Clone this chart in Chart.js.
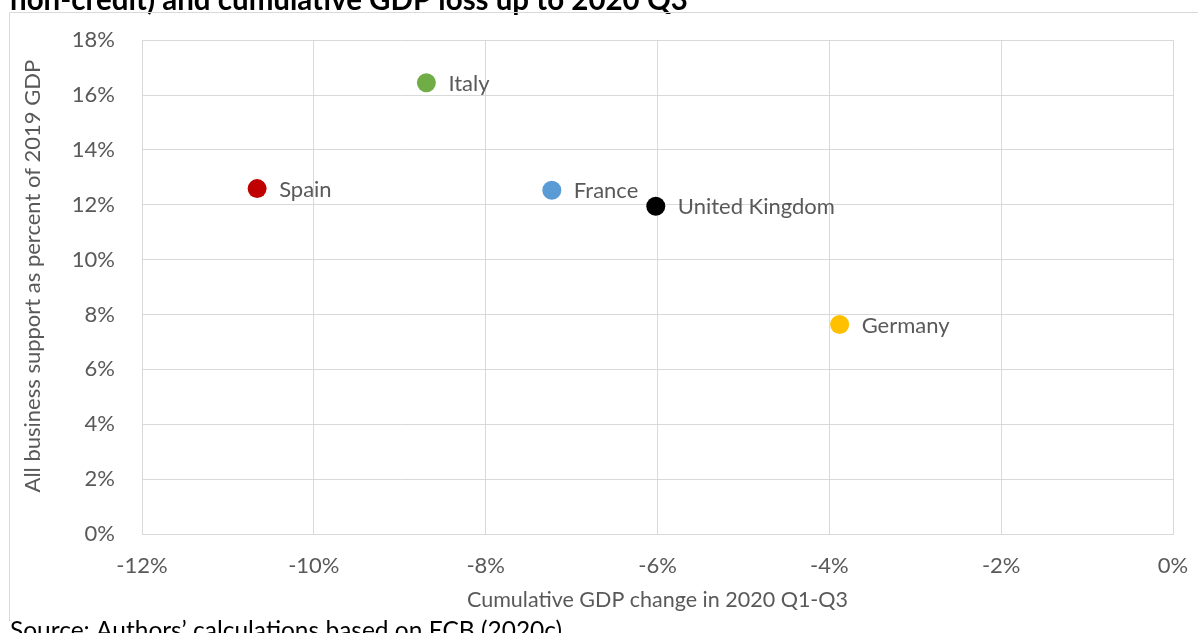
<!DOCTYPE html>
<html lang="en">
<head>
<meta charset="UTF-8" />
<title>Business support and GDP loss</title>
<script src="https://cdn.jsdelivr.net/npm/chart.js@4.4.0/dist/chart.umd.min.js"></script>
<style>
  html, body { margin: 0; padding: 0; background: #fff; overflow: hidden; }
  #wrap { position: relative; width: 1198px; height: 633px; }
</style>
</head>
<body>
<div id="wrap">
  <canvas id="myChart" width="1198" height="633"></canvas>
</div>
<script>
  // cumulative GDP change (x) vs business support (y), both in percent
  const countries = ["Spain", "Italy", "France", "United Kingdom", "Germany"];
  const gdpChange = [-10.66, -8.69, -7.23, -6.02, -3.88];
  const businessSupport = [12.59, 16.45, 12.53, 11.95, 7.64];
  const pointColors = ["#C00000", "#70AD47", "#5B9BD5", "#000000", "#FFC000"];

  const chartTitle = "non-credit) and cumulative GDP loss up to 2020 Q3";
  const sourceNote = "Source: Authors\u2019 calculations based on ECB (2020c)";
  const xTitle = "Cumulative GDP change in 2020 Q1-Q3";
  const yTitle = "All business support as percent of 2019 GDP";

  const FONT = "Lato, 'Open Sans', sans-serif";
  const GREY_TEXT = "#595959";
  const GRID = "#d9d9d9";

  // heading, frame and source line around the plot
  const framePlugin = {
    id: "frame",
    beforeDraw(chart) {
      const ctx = chart.ctx;
      ctx.save();
      ctx.fillStyle = "#fff";
      ctx.fillRect(0, 0, chart.width, chart.height);

      ctx.fillStyle = "#000";
      ctx.font = "bold 29.5px " + FONT;
      ctx.textBaseline = "alphabetic";
      ctx.textAlign = "left";
      ctx.fillText(chartTitle, 10, 10);

      ctx.strokeStyle = GRID;
      ctx.lineWidth = 1;
      ctx.beginPath();
      ctx.moveTo(9.5, 621);
      ctx.lineTo(9.5, 12.5);
      ctx.lineTo(chart.width, 12.5);
      ctx.stroke();

      ctx.fillStyle = "#000";
      ctx.font = "24.5px " + FONT;
      ctx.textBaseline = "top";
      ctx.fillText(sourceNote, 10, 619);
      ctx.restore();
    },
    // vertical axis title, sitting a little above the plot's middle
    afterDraw(chart) {
      const ctx = chart.ctx;
      const area = chart.chartArea;
      ctx.save();
      ctx.translate(33, (area.top + area.bottom) / 2 - 11);
      ctx.rotate(-Math.PI / 2);
      ctx.font = "22px " + FONT;
      ctx.fillStyle = GREY_TEXT;
      ctx.textAlign = "center";
      ctx.textBaseline = "middle";
      ctx.fillText(yTitle, 0, 0);
      ctx.restore();
    }
  };

  // country names next to each point
  const pointLabels = {
    id: "pointLabels",
    afterDatasetsDraw(chart) {
      const ctx = chart.ctx;
      const meta = chart.getDatasetMeta(0);
      ctx.save();
      ctx.font = "22px " + FONT;
      ctx.fillStyle = GREY_TEXT;
      ctx.textAlign = "left";
      ctx.textBaseline = "middle";
      meta.data.forEach((pt, i) => {
        ctx.fillText(countries[i], pt.x + 22, pt.y + 1);
      });
      ctx.restore();
    }
  };

  const points = gdpChange.map((x, i) => ({ x: x, y: businessSupport[i] }));

  const tickFont = { family: FONT, size: 22 };

  new Chart(document.getElementById("myChart"), {
    type: "scatter",
    data: {
      datasets: [{
        data: points,
        backgroundColor: pointColors,
        borderWidth: 0,
        pointRadius: 9.5,
        pointHoverRadius: 9.5
      }]
    },
    options: {
      responsive: false,
      animation: false,
      layout: { padding: { left: 10, right: 25, top: 39, bottom: 19 } },
      plugins: {
        legend: { display: false },
        tooltip: { enabled: false }
      },
      scales: {
        x: {
          type: "linear",
          min: -12,
          max: 0,
          ticks: {
            stepSize: 2,
            color: GREY_TEXT,
            font: tickFont,
            padding: 19,
            callback: (v) => v + "%"
          },
          grid: { color: GRID, drawTicks: false },
          border: { color: GRID },
          title: {
            display: true,
            text: xTitle,
            color: GREY_TEXT,
            font: { family: FONT, size: 21.5 },
            padding: { top: 0, bottom: 1 }
          },
          afterFit(scale) {
            scale.height = 80;
            scale.paddingLeft = 0;
            scale.paddingRight = 0;
          }
        },
        y: {
          min: 0,
          max: 18,
          ticks: {
            stepSize: 2,
            color: GREY_TEXT,
            font: tickFont,
            padding: 27,
            callback: (v) => v + "%"
          },
          grid: { color: GRID, drawTicks: false },
          border: { color: GRID },
          title: { display: false },
          afterFit(scale) { scale.width = 132; }
        }
      }
    },
    plugins: [framePlugin, pointLabels]
  });
</script>
</body>
</html>
